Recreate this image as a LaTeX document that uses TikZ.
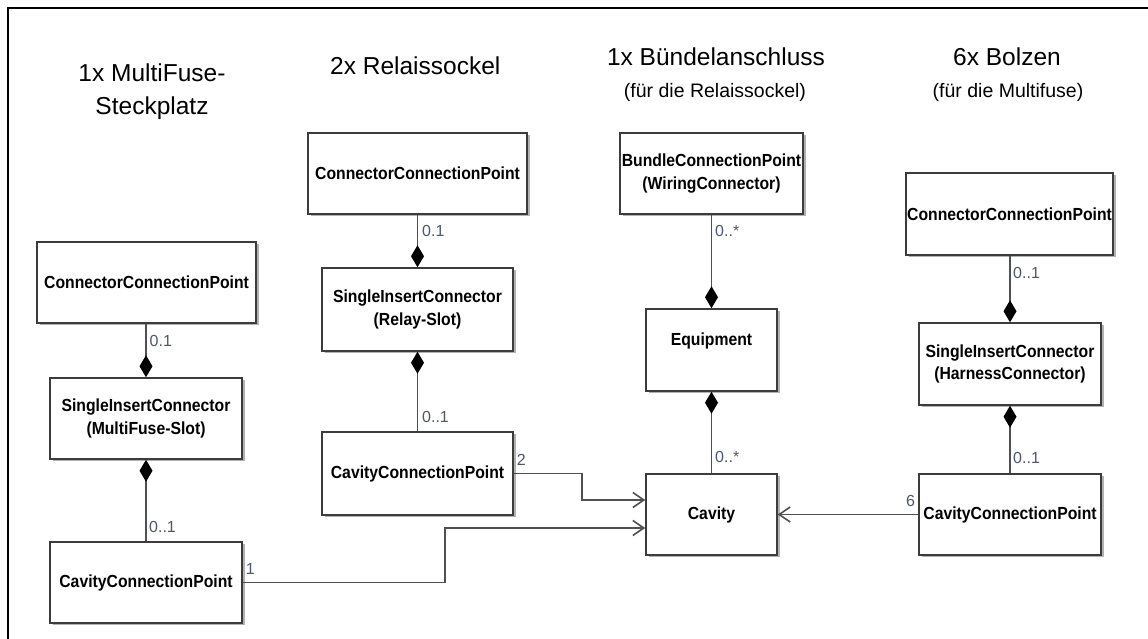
\documentclass[tikz,border=0pt]{standalone}
\usepackage{fontspec}
\setmainfont{Liberation Sans}
\newfontfamily\boxfont[FakeStretch=0.9]{Liberation Sans}
\usetikzlibrary{arrows.meta,shadows}

\definecolor{boxline}{HTML}{3C3C3C}
\definecolor{linkline}{HTML}{505050}
\definecolor{multcol}{HTML}{4E5672}

\tikzset{
  cls/.style={draw=boxline, line width=1.5pt, fill=white, align=center,
    inner sep=0pt,
    font=\boxfont\bfseries\fontsize{17.5}{22.5}\selectfont,
    drop shadow={shadow xshift=2.5pt, shadow yshift=-2.5pt, opacity=0.3, fill=black}},
  comp/.style={draw=linkline, line width=1.6pt,
    {Diamond[length=22pt,width=13pt,color=black,fill=black]}-},
  assoc/.style={draw=linkline, line width=1.6pt,
    -{Straight Barb[length=11pt,width=15pt]}},
  mult/.style={inner sep=0pt, text=multcol, font=\fontsize{16}{19}\selectfont},
  heading/.style={inner sep=0pt, font=\fontsize{24.5}{29}\selectfont},
  subheading/.style={inner sep=0pt, font=\fontsize{19.5}{24}\selectfont},
  frameline/.style={draw=black, line width=2pt}
}

\begin{document}
\begin{tikzpicture}[x=1pt,y=1pt]
\useasboundingbox (0,0) rectangle (1148,639);
\fill[white] (0,0) rectangle (1148,639);
\draw[frameline] (8,-2) -- (8,631) -- (1150,631);

% column headings
\node[heading, anchor=base] (h1a) at (152,557) {1x MultiFuse-};
\node[heading, anchor=base] (h1b) at (152,524) {Steckplatz};
\node[heading, anchor=base west] (h2) at (330,564) {2x Relaissockel};
\node[heading, anchor=base] (h3) at (716,573) {1x Bündelanschluss};
\node[subheading, anchor=base] (h3s) at (715,541) {(für die Relaissockel)};
\node[heading, anchor=base] (h4) at (1007,573) {6x Bolzen};
\node[subheading, anchor=base] (h4s) at (1008,541) {(für die Multifuse)};

% MultiFuse slot
\node[cls, minimum width=219pt, minimum height=81pt] (A1) at (146.5,356.5) {ConnectorConnectionPoint};
\node[cls, minimum width=192pt, minimum height=81pt] (A2) at (146,220.5) {SingleInsertConnector\\(MultiFuse-Slot)};
\node[cls, minimum width=192pt, minimum height=81pt] (A3) at (146,56.5) {CavityConnectionPoint};

% relay sockets
\node[cls, minimum width=219pt, minimum height=81pt] (B1) at (417.5,465.5) {ConnectorConnectionPoint};
\node[cls, minimum width=191pt, minimum height=83pt] (B2) at (417.5,329.5) {SingleInsertConnector\\(Relay-Slot)};
\node[cls, minimum width=191pt, minimum height=83pt] (B3) at (417.5,165.5) {CavityConnectionPoint};

% bundle connection
\node[cls, minimum width=183pt, minimum height=81pt] (C1) at (711.5,465.5) {BundleConnectionPoint\\(WiringConnector)};
\node[cls, minimum width=131pt, minimum height=82pt] (C2) at (711.5,289) {Equipment\\\mbox{}};
\node[cls, minimum width=131pt, minimum height=81pt] (C3) at (711.5,124.5) {Cavity};

% bolts
\node[cls, minimum width=207pt, minimum height=82pt] (D1) at (1009.5,425) {ConnectorConnectionPoint};
\node[cls, minimum width=182pt, minimum height=82pt] (D2) at (1010,275) {SingleInsertConnector\\(HarnessConnector)};
\node[cls, minimum width=182pt, minimum height=81pt] (D3) at (1010,124.5) {CavityConnectionPoint};

% compositions
\draw[comp] (A2.north) -- (A2.north |- A1.south);
\draw[comp] (A2.south) -- (A2.south |- A3.north);
\draw[comp] (B2.north) -- (B2.north |- B1.south);
\draw[comp] (B2.south) -- (B2.south |- B3.north);
\draw[comp] (C2.north) -- (C2.north |- C1.south);
\draw[comp] (C2.south) -- (C2.south |- C3.north);
\draw[comp] (D2.north) -- (D2.north |- D1.south);
\draw[comp] (D2.south) -- (D2.south |- D3.north);

% associations towards the cavity
\coordinate (bendA) at (445,111);
\coordinate (bendB) at (582,139);
\draw[assoc] (A3.east) -| (bendA) -- (bendA -| C3.west);
\draw[assoc] (B3.east) -| (bendB) -- (bendB -| C3.west);
\draw[assoc] (D3.west) -- (C3.east);

% multiplicities
\node[mult, anchor=west] (mA1) at ([shift={(3pt,-17pt)}]A1.south) {0.1};
\node[mult, anchor=west] (mA3) at ([shift={(3pt,14pt)}]A3.north) {0..1};
\node[mult, anchor=west] (mB1) at ([shift={(4.5pt,-16pt)}]B1.south) {0.1};
\node[mult, anchor=west] (mB3) at ([shift={(4.5pt,14pt)}]B3.north) {0..1};
\node[mult, anchor=west] (mC1) at ([shift={(3.5pt,-16pt)}]C1.south) {0..*};
\node[mult, anchor=west] (mC3) at ([shift={(3.5pt,16pt)}]C3.north) {0..*};
\node[mult, anchor=west] (mD1) at ([shift={(3.5pt,-17pt)}]D1.south) {0..1};
\node[mult, anchor=west] (mD3) at ([shift={(3pt,15pt)}]D3.north) {0..1};
\node[mult, anchor=west] (mA3e) at ([shift={(3pt,14pt)}]A3.east) {1};
\node[mult, anchor=west] (mB3e) at ([shift={(3pt,14pt)}]B3.east) {2};
\node[mult, anchor=east] (mD3w) at ([shift={(-3pt,14pt)}]D3.west) {6};
\end{tikzpicture}
\end{document}
